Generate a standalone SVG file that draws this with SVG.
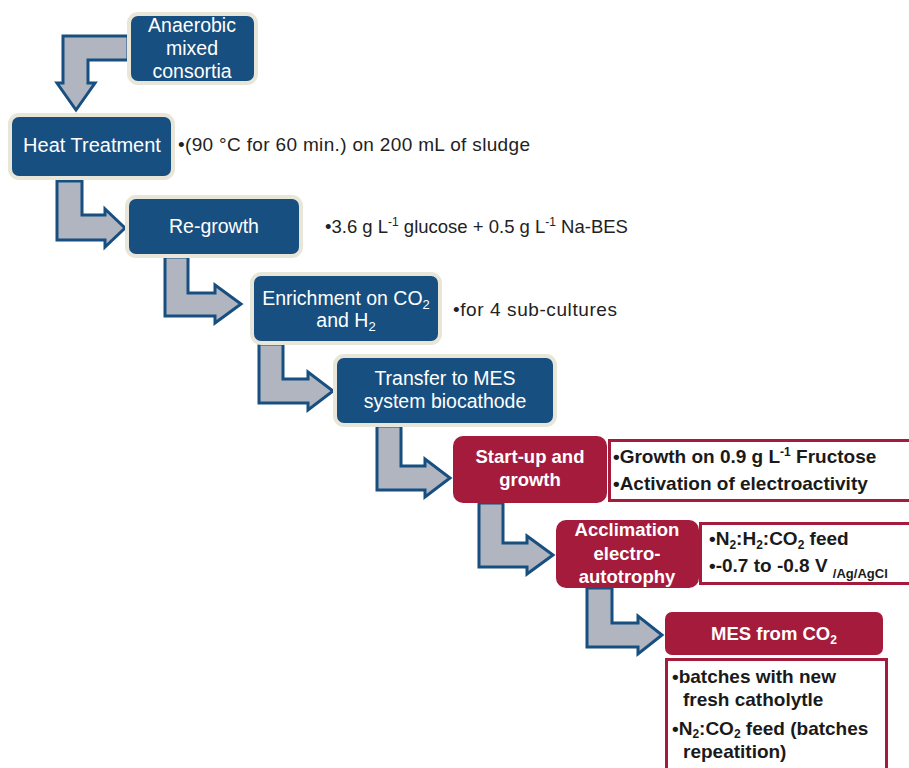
<svg xmlns="http://www.w3.org/2000/svg" width="909" height="768" viewBox="0 0 909 768">
<style>
.bb{fill:#174f80;stroke:#e8e6d8;stroke-width:4}
.rb{fill:#a51b3c}
.wb{fill:#fff;stroke:#a51b3c;stroke-width:3}
.ar{fill:#b1b5c0;stroke:#174f80;stroke-width:3;stroke-linejoin:miter}
.wt{font-family:"Liberation Sans",Arial,sans-serif;font-size:19.5px;fill:#fff;text-anchor:middle}
.wbt{font-family:"Liberation Sans",Arial,sans-serif;font-size:18.5px;font-weight:bold;fill:#fff;text-anchor:middle}
.nt{font-family:"Liberation Sans",Arial,sans-serif;font-size:19px;fill:#222}
.bt{font-family:"Liberation Sans",Arial,sans-serif;font-size:19px;font-weight:bold;fill:#1a1a1a}
</style>
<rect width="909" height="768" fill="#fff"/>
<g id="connectors">
<path class="ar" d="M128,36 H63 V83 H57 L76,110 L95,83 H88 V60 H128 Z"/>
<path class="ar" d="M57,181 H82 V215 H105 V209 L125,228 L105,247 V240 H57 Z"/>
<path class="ar" d="M165,257 H188 V293 H215 V285 L241,304 L215,323 V316 H165 Z"/>
<path class="ar" d="M259,344 H283 V379 H308 V372 L333,391 L308,410 V403 H259 Z"/>
<path class="ar" d="M377,426 H401 V466 H425 V459 L450,478 L425,497 V490 H377 Z"/>
<path class="ar" d="M479,503 H503 V543 H527 V536 L553,555 L527,574 V567 H479 Z"/>
<path class="ar" d="M587,588 H612 V623 H638 V616 L662,635 L638,654 V647 H587 Z"/>
</g>
<g id="anaerobic">
<rect class="bb" x="129" y="14" width="127" height="69" rx="9"/>
<text class="wt" x="192" y="32">Anaerobic</text>
<text class="wt" x="192" y="55">mixed</text>
<text class="wt" x="192" y="78">consortia</text>
</g>
<g id="heat">
<rect class="bb" x="10" y="115" width="163" height="63" rx="9"/>
<text class="wt" x="92" y="152" style="font-size:20px">Heat Treatment</text>
<text class="nt" x="178" y="151" textLength="352">•(90 °C for 60 min.) on 200 mL of sludge</text>
</g>
<g id="regrowth">
<rect class="bb" x="127" y="197" width="174" height="59" rx="9"/>
<text class="wt" x="214" y="233">Re-growth</text>
<text class="nt" x="325" y="233" style="font-size:18.5px">•3.6 g L<tspan dy="-7" style="font-size:12px">-1</tspan><tspan dy="7"> glucose + 0.5 g L</tspan><tspan dy="-7" style="font-size:12px">-1</tspan><tspan dy="7"> Na-BES</tspan></text>
</g>
<g id="enrichment">
<rect class="bb" x="252" y="274" width="188" height="69" rx="9"/>
<text class="wt" x="346" y="305">Enrichment on CO<tspan dy="4" font-size="13">2</tspan></text>
<text class="wt" x="346" y="327">and H<tspan dy="4" font-size="13">2</tspan></text>
<text class="nt" x="453" y="316" textLength="164">•for 4 sub-cultures</text>
</g>
<g id="transfer">
<rect class="bb" x="335" y="356" width="220" height="69" rx="9"/>
<text class="wt" x="445" y="385">Transfer to MES</text>
<text class="wt" x="445" y="408">system biocathode</text>
</g>
<g id="startup">
<rect class="rb" x="453" y="436" width="154" height="67" rx="10"/>
<text class="wbt" x="530" y="463">Start-up and</text>
<text class="wbt" x="530" y="486">growth</text>
<rect class="wb" x="609.5" y="440.5" width="310" height="60"/>
<text class="bt" x="613" y="463">•Growth on 0.9 g L<tspan dy="-7" font-size="12">-1</tspan><tspan dy="7"> Fructose</tspan></text>
<text class="bt" x="613" y="490">•Activation of electroactivity</text>
</g>
<g id="acclimation">
<rect class="rb" x="556" y="520" width="143" height="68" rx="10"/>
<text class="wbt" x="627" y="536">Acclimation</text>
<text class="wbt" x="627" y="560">electro-</text>
<text class="wbt" x="627" y="583">autotrophy</text>
<rect class="wb" x="700.5" y="523.5" width="220" height="60"/>
<text class="bt" x="709" y="545">•N<tspan dy="4" font-size="12">2</tspan><tspan dy="-4">:H</tspan><tspan dy="4" font-size="12">2</tspan><tspan dy="-4">:CO</tspan><tspan dy="4" font-size="12">2</tspan><tspan dy="-4"> feed</tspan></text>
<text class="bt" x="709" y="572">•-0.7 to -0.8 V <tspan dy="6" font-size="13">/Ag/AgCl</tspan></text>
</g>
<g id="mes">
<rect class="rb" x="665" y="612" width="218" height="43" rx="7"/>
<text class="wbt" x="774" y="640">MES from CO<tspan dy="4" font-size="12">2</tspan></text>
<rect class="wb" x="666.5" y="659.5" width="220" height="130"/>
<text class="bt" x="672" y="683">•batches with new</text>
<text class="bt" x="683" y="706">fresh catholytle</text>
<text class="bt" x="672" y="735">•N<tspan dy="3" font-size="12">2</tspan><tspan dy="-3">:CO</tspan><tspan dy="3" font-size="12">2</tspan><tspan dy="-3"> feed (batches</tspan></text>
<text class="bt" x="683" y="758">repeatition)</text>
</g>
</svg>
